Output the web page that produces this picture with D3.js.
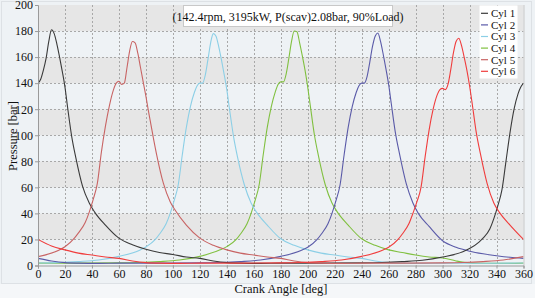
<!DOCTYPE html>
<html><head><meta charset="utf-8">
<script src="https://cdn.jsdelivr.net/npm/d3@7/dist/d3.min.js"></script>
<style>
html,body{margin:0;padding:0;background:#eef2f5;}
svg{display:block;}
svg text{font-family:"Liberation Serif","DejaVu Serif",serif !important;}
</style></head>
<body><svg id="c" width="535" height="298"></svg>
<script>
// ---- data ----
const seriesNames = ["Cyl 1","Cyl 2","Cyl 3","Cyl 4","Cyl 5","Cyl 6"];
const tdcAngles   = [0, 240, 120, 180, 60, 300];   // firing TDC of each cylinder [deg]
// crank angle relative to each cylinder's TDC [deg]
const relAngle = [-150,-120,-105,-90,-75,-60,-45,-40,-33,-30,-25,-22,-19,-16,-13,-10,-7,-4,-2,
  0,2,4,6,8,10,12,14,16,18,20,22,25,28,33,38,42,50,60,70,80,90,100,110,120,130,140,150,165,180];
// pressure [bar] at those angles
const cyl1 = [1.8,2.0,2.3,3.0,4.0,6.5,10.5,13,18,21,28,36,46,58,80,102,120,132,137,
  140,143,150,159,172,181,178,170,160,149,137,121,99,83,61,48,41,31,21,16,12.5,10,8.5,6.5,5.5,3.5,2.2,1.8,1.6,1.8];
const cyl2 = [1.8,2.0,2.3,3.0,4.2,7.0,11.5,14,20,24,32,40,50,62,85,106,122,133,138,
  140,140,145,156,168,176,178.5,172,162,151,139,124,102,86,63,48,40,30,19,14,11,9,7.5,6.3,5.5,3.5,2.2,1.8,1.6,1.8];
const cyl3 = [1.7,1.9,2.2,3.0,4.2,7.0,11.5,14.2,20,24,32,40,50,62,85,106,122,133,138,
  140,140,146,158,171,178,176,168,158,147,135,120,99,83,62,48,41,31,20.5,15.5,12,9.5,8,6.5,5.5,3.5,2.2,1.8,1.6,1.8];
const cyl4 = [1.8,2.0,2.3,3.0,4.2,7.0,12,14.5,20,24,32,40,50,62,85,106,122,133.5,139,
  141,141,147,159,172,180,179.5,171,161,150,137,122,100,84,62,48,41,31,20.5,15.5,12,10,8,6.5,5.8,3.5,2.0,1.7,1.6,1.8];
const cyl5 = [1.8,2.0,2.3,3.0,4.2,6.8,11.5,14.4,21,25,33,41,51,63,87,107,123,135,140,
  141.5,139,140,152,165,172,171,163,152,141,130,118,101,85,63,49,42,31,21,15.5,12,9.5,8,6.5,5.5,3.5,2.2,1.8,1.6,1.8];
const cyl6 = [1.8,2.0,2.3,3.0,4.2,7.0,11.5,14,20,24,32,40,49,60,83,104,120,131,135,
  136,135,139,150,163,172,174.5,169,160,150,138,124,102,86,63,48,41,31,20,15,12,9.5,8,6.5,5.5,3.5,2.2,1.8,1.6,1.8];
const pressures = [cyl1, cyl2, cyl3, cyl4, cyl5, cyl6];
const colors = ["#3a3a3a","#5a5aa8","#8ccfe6","#80c040","#c86464","#f03c3c"];
const xTicks = d3.range(0, 361, 20);
const yTicks = d3.range(0, 201, 20);
const titleText = "(142.4rpm, 3195kW, P(scav)2.08bar, 90%Load)";

// ---- layout ----
const FONT = "'Liberation Serif','DejaVu Serif',serif";
const svg = d3.select("#c");
const x = d3.scaleLinear().domain([0,360]).range([38,523.5]);
const y = d3.scaleLinear().domain([0,200]).range([265.5,5]);

svg.append("rect").attr("x",0).attr("y",284).attr("width",535).attr("height",14).attr("fill","#f5f7f9");
svg.append("rect").attr("x",1.5).attr("y",1.5).attr("width",530).attr("height",282)
  .attr("fill","#eef2f5").attr("stroke","#dde1e5");

// bands
const bands = d3.range(0, 200, 20);
svg.append("g").selectAll("rect").data(bands).join("rect")
  .attr("x", x(0)).attr("width", x(360)-x(0))
  .attr("y", d => y(d+20)).attr("height", d => y(d)-y(d+20))
  .attr("fill", (d,i) => i%2===1 ? "#e6e6e6" : "#eef2f5");

// grid
const grid = svg.append("g").attr("stroke","#a8a8a8").attr("stroke-dasharray","2,2").attr("stroke-width",1);
grid.selectAll("line.v").data(xTicks.slice(1,-1)).join("line").attr("class","v")
  .attr("x1", d=>Math.round(x(d))+0.5).attr("x2", d=>Math.round(x(d))+0.5).attr("y1", y(200)).attr("y2", y(0));
grid.selectAll("line.h").data(yTicks.slice(1,-1)).join("line").attr("class","h")
  .attr("y1", d=>Math.round(y(d))+0.5).attr("y2", d=>Math.round(y(d))+0.5).attr("x1", x(0)).attr("x2", x(360));

svg.append("line").attr("x1",x(360)+0.5).attr("x2",x(360)+0.5).attr("y1",y(200)).attr("y2",y(0)).attr("stroke","#c8c8c8");

// clip
svg.append("clipPath").attr("id","pc").append("rect")
  .attr("x", x(0)).attr("y", y(200)).attr("width", x(360)-x(0)).attr("height", y(0)-y(200));

function seriesPoints(ci){
  const t = tdcAngles[ci];
  const pts = relAngle.map((r,i)=>[((t + r) % 360 + 360) % 360, pressures[ci][i]]);
  pts.sort((a,b)=>a[0]-b[0]);
  pts.push([360, pts[0][1]]);
  return pts;
}
const line = d3.line().x(d=>x(d[0])).y(d=>y(d[1])).curve(d3.curveMonotoneX);
const lg = svg.append("g").attr("clip-path","url(#pc)");
[3,2,1,0,4,5].forEach(ci=>{
  lg.append("path").datum(seriesPoints(ci)).attr("d", line)
    .attr("fill","none").attr("stroke", colors[ci]).attr("stroke-width",1.1);
});

// axes
const xAxis = svg.append("g").attr("transform",`translate(0,${y(0)})`)
  .call(d3.axisBottom(x).tickValues(xTicks).tickSize(3).tickPadding(1).tickFormat(d3.format("d")));
const yAxis = svg.append("g").attr("transform",`translate(${x(0)},0)`)
  .call(d3.axisLeft(y).tickValues(yTicks).tickSize(3).tickPadding(2).tickFormat(d3.format("d")));
[xAxis,yAxis].forEach(a=>{
  a.attr("font-family", FONT).attr("font-size", 12);
  a.selectAll("path").attr("stroke","#9a9a9a");
  a.selectAll("line").attr("stroke","#9a9a9a");
  a.selectAll("text").attr("fill","#111").attr("font-family", FONT).attr("font-size", 12);
});

// axis titles
svg.append("text").attr("x", 281).attr("y", 293).attr("text-anchor","middle")
  .attr("font-family", FONT).attr("font-size", 12.5).attr("fill","#111").text("Crank Angle [deg]");
svg.append("text").attr("transform","translate(17,136) rotate(-90)").attr("text-anchor","middle")
  .attr("font-family", FONT).attr("font-size", 12.5).attr("fill","#111").text("Pressure [bar]");

// title box
svg.append("rect").attr("x",183.5).attr("y",5.5).attr("width",209).attr("height",21)
  .attr("fill","#ffffff").attr("stroke","#c8c8c8");
svg.append("text").attr("x",288).attr("y",20.5).attr("text-anchor","middle")
  .attr("font-family", FONT).attr("font-size", 12).attr("fill","#111").text(titleText);

// legend
const leg = svg.append("g");
leg.append("rect").attr("x",479.5).attr("y",5.5).attr("width",38).attr("height",73).attr("fill","#ffffff");
seriesNames.forEach((n,i)=>{
  const yy = 13.3 + i*11.6;
  leg.append("line").attr("x1",481).attr("x2",488).attr("y1",yy).attr("y2",yy).attr("stroke",colors[i]).attr("stroke-width",1.2);
  leg.append("text").attr("x",491).attr("y",yy+3.8).attr("font-family", FONT).attr("font-size", 11).attr("fill","#111").text(n);
});
</script></body></html>
